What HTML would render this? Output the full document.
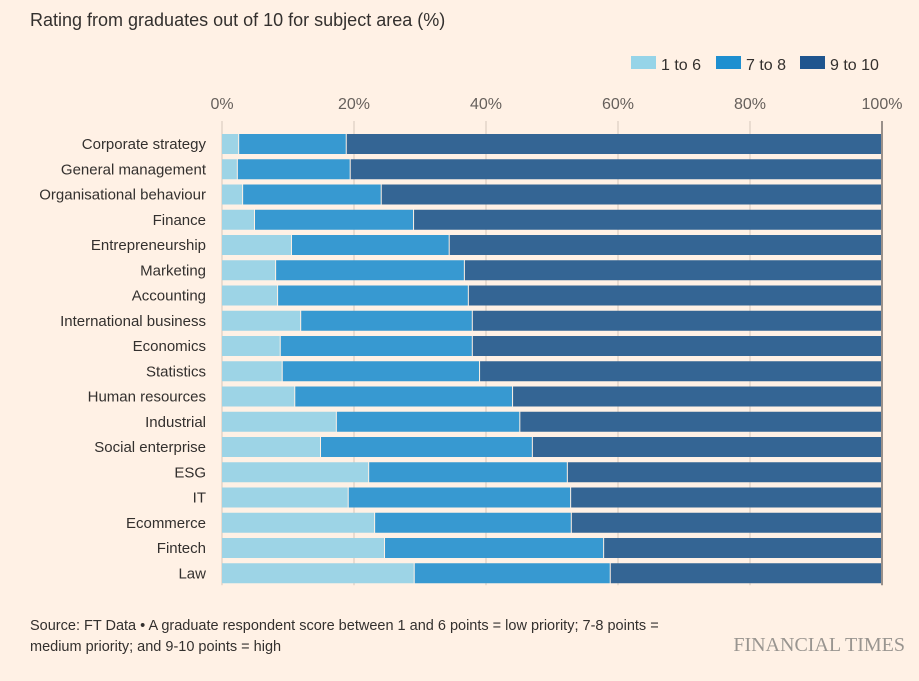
<!DOCTYPE html>
<html><head><meta charset="utf-8"><style>
body{margin:0;background:#fff1e5;font-family:"Liberation Sans",sans-serif;}
</style></head><body>
<svg width="919" height="676" xmlns="http://www.w3.org/2000/svg">
<rect width="919" height="676" fill="#fff1e5"/>
<text x="30" y="26" font-size="18" fill="#33302e">Rating from graduates out of 10 for subject area (%)</text>
<g font-size="16" fill="#33302e">
<rect x="631" y="56" width="25" height="13" fill="#96d4e8"/>
<text x="661" y="70">1 to 6</text>
<rect x="716" y="56" width="25" height="13" fill="#1e8fd0"/>
<text x="746" y="70">7 to 8</text>
<rect x="800" y="56" width="25" height="13" fill="#1f558e"/>
<text x="830" y="70">9 to 10</text>
</g>
<g id="grid"></g>
<g id="bars"></g>
<g id="labels" font-size="15" fill="#33302e" text-anchor="end"></g>
<text x="30" y="630" font-size="14.5" fill="#33302e">Source: FT Data • A graduate respondent score between 1 and 6 points = low priority; 7-8 points =</text>
<text x="30" y="651" font-size="14.5" fill="#33302e">medium priority; and 9-10 points = high</text>
<text x="905" y="651" font-size="20" fill="#999590" text-anchor="end" font-family="Liberation Serif,serif">FINANCIAL TIMES</text>
</svg>
<script>
const categories=["Corporate strategy","General management","Organisational behaviour","Finance","Entrepreneurship","Marketing","Accounting","International business","Economics","Statistics","Human resources","Industrial","Social enterprise","ESG","IT","Ecommerce","Fintech","Law"];
const low=[2.6,2.4,3.2,5,10.6,8.2,8.5,12,8.9,9.2,11.1,17.4,15,22.3,19.2,23.2,24.7,29.2];
const mid=[16.3,17.1,21,24.1,23.9,28.6,28.9,26,29.1,29.9,33,27.8,32.1,30.1,33.7,29.8,33.2,29.7];
const ticks=[0,20,40,60,80,100];
const NS="http://www.w3.org/2000/svg";
const x0=222,x1=882,y0=134,step=25.25,bh=20;
const xs=v=>x0+(x1-x0)*v/100;
const ys=i=>y0+i*step;
function mk(t,a,p){const e=document.createElementNS(NS,t);for(const k in a)e.setAttribute(k,a[k]);p.appendChild(e);return e;}
const g=document.getElementById('grid'),b=document.getElementById('bars'),l=document.getElementById('labels');
ticks.forEach(t=>{
 const ln=mk('line',{x1:xs(t),x2:xs(t),y1:121,y2:ys(categories.length-1)+bh+2,stroke:t===100?'#33302e':'#d6c8bb','stroke-width':1},g);
 
 
 const tx=mk('text',{x:xs(t),y:109,'font-size':16,fill:'#66605c','text-anchor':'middle'},g);
 tx.textContent=t+'%';
 
 
});
categories.forEach((c,i)=>{
 const y=ys(i);
 const segs=[[0,low[i],'#9dd4e6','low'],[low[i],low[i]+mid[i],'#3799d1','mid'],[low[i]+mid[i],100,'#346594','high']];
 segs.forEach(s=>{
  const r=mk('rect',{x:xs(s[0]),y:y,width:Math.max(0,xs(s[1])-xs(s[0])-1),height:bh,fill:s[2]},b);
  
  
 });
 const t=mk('text',{x:206,y:y+15},l);
 t.textContent=c;
 
 
});
</script>
</body></html>
